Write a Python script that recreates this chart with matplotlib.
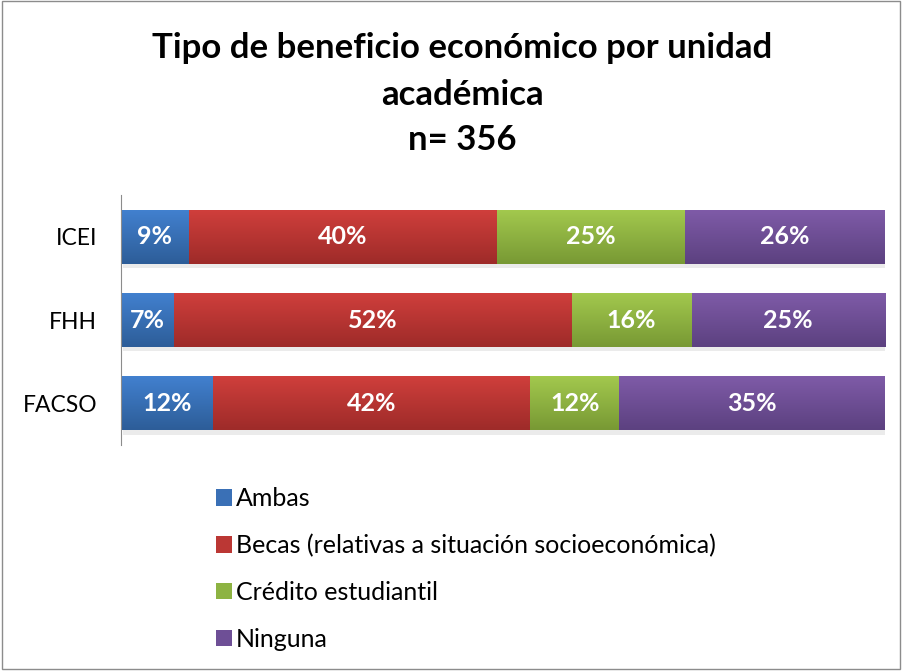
import matplotlib.pyplot as plt
import numpy as np
from matplotlib.patches import Patch, Rectangle

plt.rcParams['font.family'] = ['Lato', 'DejaVu Sans']

unidades = ['FACSO', 'FHH', 'ICEI']
series = ['Ambas', 'Becas (relativas a situación socioeconómica)',
          'Crédito estudiantil', 'Ninguna']
# porcentajes por unidad (FACSO, FHH, ICEI)
ambas = [12.0, 6.9, 8.9]
becas = [41.6, 52.1, 40.3]
credito = [11.6, 15.7, 24.7]
ninguna = [34.8, 25.3, 26.1]
valores = [ambas, becas, credito, ninguna]

top_cols = ['#4281d0', '#d03f3c', '#a3c94e', '#7f5ba8']
bot_cols = ['#2d5d98', '#9e2b29', '#789934', '#5c4180']
mid_cols = ['#3a70b6', '#bb3734', '#8db342', '#6e4f96']

fig = plt.figure(figsize=(9.04, 6.72), dpi=100)
ax = fig.add_axes([0.1338, 0.3378, 0.845, 0.372])

y = np.arange(len(unidades))
left = np.zeros(len(unidades))
for vals, ctop, cbot in zip(valores, top_cols, bot_cols):
    bars = ax.barh(y, vals, left=left, height=0.65, color='none', edgecolor='none')
    for b, v in zip(bars, vals):
        x0, y0 = b.get_x(), b.get_y()
        w, h = b.get_width(), b.get_height()
        shadow = Rectangle((x0 + 0.25, y0 - 0.05), w, h, facecolor='#000000',
                           alpha=0.08, edgecolor='none', zorder=0.5)
        ax.add_patch(shadow)
        grad = np.linspace(0, 1, 64).reshape(-1, 1)
        c1 = np.array(plt.matplotlib.colors.to_rgb(ctop))
        c2 = np.array(plt.matplotlib.colors.to_rgb(cbot))
        img = c2[None, None, :] * (1 - grad[..., None]) + c1[None, None, :] * grad[..., None]
        im = ax.imshow(img, extent=(x0, x0 + w, y0, y0 + h), origin='lower',
                       aspect='auto', zorder=1, interpolation='bilinear')
        im.set_clip_path(b)
        ax.text(x0 + w / 2, y0 + h / 2, f'{round(v):d}%', ha='center', va='center',
                color='white', fontsize=18, fontweight='bold', zorder=3)
    left += np.array(vals)

ax.set_xlim(0, 100)
ax.set_ylim(-0.5, 2.5)
ax.set_yticks(y)
ax.set_yticklabels(unidades, fontsize=16.5)
ax.tick_params(axis='y', length=0, pad=17)
ax.set_xticks([])
for s in ['top', 'right', 'bottom']:
    ax.spines[s].set_visible(False)
ax.spines['left'].set_color('#8c8c8c')

fig.text(0.511, 0.928, 'Tipo de beneficio económico por unidad', ha='center', va='center',
         fontsize=25, fontweight='bold')
fig.text(0.511, 0.858, 'académica', ha='center', va='center', fontsize=25, fontweight='bold')
fig.text(0.511, 0.792, 'n= 356', ha='center', va='center', fontsize=25, fontweight='bold')

handles = [Patch(facecolor=c, edgecolor='none') for c in mid_cols]
fig.legend(handles, series, loc='upper left', bbox_to_anchor=(0.228, 0.29),
           frameon=False, fontsize=18, handlelength=0.65, handleheight=0.65,
           handletextpad=0.15, labelspacing=0.95, borderaxespad=0)

fig.patches.append(Rectangle((0.002, 0.004), 0.994, 0.994, transform=fig.transFigure,
                             fill=False, edgecolor='#8c8c8c', linewidth=1))

fig.savefig('out.png', dpi=100)
